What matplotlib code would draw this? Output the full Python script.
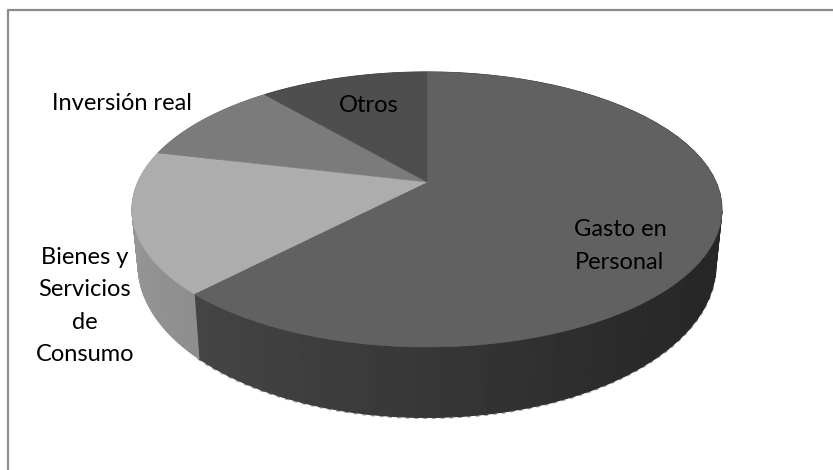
"""3D-looking pie of spending shares, drawn from slice values with a projected disc."""
import matplotlib
matplotlib.use("Agg")
import matplotlib.pyplot as plt
import numpy as np
from matplotlib.patches import Polygon

labels = ["Gasto en\nPersonal", "Bienes y\nServicios\nde\nConsumo", "Inversión real", "Otros"]
shares = [62.1, 16.6, 10.1, 11.2]

top_colors = ["#616161", "#adadad", "#7b7b7b", "#4e4e4e"]
side_left = ["#454545", "#8e8e8e", "#7b7b7b", "#4e4e4e"]
side_right = ["#262626", "#9c9c9c", "#7b7b7b", "#4e4e4e"]
label_pos = [(620, 246), (85, 306), (122, 103), (369, 106)]

CX = 427
TILT = 0.2


def project(theta, radius, apex_y, up):
    # theta runs clockwise from 12 o'clock; perspective squeezes the far half
    u, v = np.sin(theta), np.cos(theta)
    w = 1 + TILT * v
    return CX + radius * u / w, apex_y - up * v / w


def rim(theta):
    return project(theta, 289, 182, 132)


def foot(theta):
    return project(theta, 283, 235, 146)


fig = plt.figure(figsize=(8.33, 4.7), dpi=100)
ax = fig.add_axes([0, 0, 1, 1])
ax.set_xlim(0, 833)
ax.set_ylim(470, 0)
ax.axis("off")

# the frame only shows on the top and left sides
ax.plot([8.5, 8.5, 833], [470, 9.5, 9.5], color="#8c8c8c", lw=1.6, zorder=1)

edges = np.radians(np.cumsum([0] + shares) * 3.6)

# thin jagged-looking light rim along the lower edge, the wall covers its inner half
front = np.radians(np.linspace(100, 225, 160))
fx, fy = foot(front)
ax.plot(fx, fy + 0.6, color="#a0a0a0", lw=1.4, ls=(0, (2, 2.5)), zorder=2)

# side wall strips first, the top faces then hide whatever is behind them
for i in range(len(shares)):
    steps = np.linspace(edges[i], edges[i + 1], 60)
    left = np.array(matplotlib.colors.to_rgb(side_left[i]))
    right = np.array(matplotlib.colors.to_rgb(side_right[i]))
    for a, b in zip(steps[:-1], steps[1:]):
        if i == 0:
            x = np.clip((715 - rim(a)[0]) / (715 - 195), 0, 1)
            col = right + (left - right) * x
        else:
            col = left + (right - left) * (a - edges[i]) / (edges[i + 1] - edges[i])
        xs = [rim(a)[0], rim(b)[0], foot(b)[0], foot(a)[0]]
        ys = [rim(a)[1], rim(b)[1], foot(b)[1], foot(a)[1]]
        ax.add_patch(Polygon(np.column_stack([xs, ys]), fc=col, ec=col, lw=0.8, zorder=3))

for i in range(len(shares)):
    steps = np.linspace(edges[i], edges[i + 1], 200)
    x, y = rim(steps)
    pts = np.column_stack([np.r_[CX, x], np.r_[182, y]])
    ax.add_patch(Polygon(pts, fc=top_colors[i], ec=top_colors[i], lw=0.4, zorder=4))

for text, (tx, ty) in zip(labels, label_pos):
    ax.text(tx, ty, text, ha="center", va="center", fontsize=17, color="black",
            linespacing=1.65, family=["Lato", "DejaVu Sans"], zorder=5)

fig.savefig("out.png", dpi=100)
